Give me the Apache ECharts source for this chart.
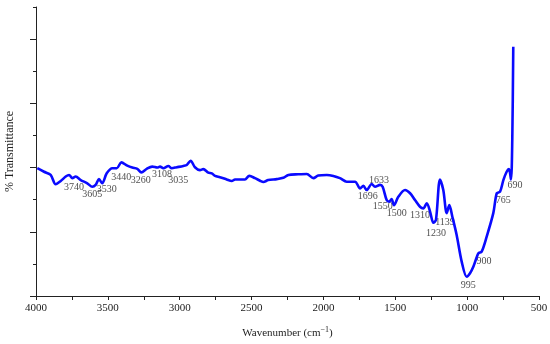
<!DOCTYPE html>
<html>
<head>
<meta charset="utf-8">
<script src="https://cdn.jsdelivr.net/npm/echarts@6/dist/echarts.min.js"></script>
<style>
html,body{margin:0;padding:0;background:#fff;}
#chart{width:550px;height:344px;}
</style>
</head>
<body>
<div id="chart"></div>
<script>
// Spectrum (wavenumber, cm^-1) and transmittance (arbitrary units)
const wavenumbers = [3991,3944,3898,3863,3828,3793,3770,3747,3724,3689,3643,3608,3585,3562,3539,3508,3469,3438,3406,3365,3330,3295,3267,3230,3191,3156,3137,3114,3079,3056,3021,2975,2951,2924,2894,2859,2836,2801,2777,2754,2720,2673,2638,2615,2569,2546,2516,2476,2441,2418,2384,2325,2279,2244,2175,2116,2070,2036,1977,1931,1885,1838,1780,1745,1722,1699,1664,1641,1606,1588,1560,1542,1526,1509,1479,1432,1397,1363,1328,1305,1281,1258,1235,1217,1189,1166,1142,1124,1103,1073,1038,1003,980,957,922,899,864,818,794,771,748,725,709,695,686,679];
const transmittance = [3.98,3.87,3.77,3.48,3.58,3.72,3.77,3.67,3.72,3.61,3.51,3.40,3.46,3.64,3.51,3.82,3.98,3.98,4.16,4.06,4.00,3.96,3.85,3.96,4.03,4.00,4.03,3.98,4.05,3.98,4.01,4.05,4.08,4.21,4.01,3.92,3.95,3.84,3.82,3.74,3.70,3.63,3.58,3.63,3.63,3.63,3.74,3.67,3.59,3.55,3.61,3.64,3.68,3.77,3.79,3.80,3.67,3.75,3.77,3.74,3.67,3.56,3.56,3.35,3.43,3.30,3.49,3.40,3.46,3.40,2.99,2.94,3.02,2.83,3.09,3.30,3.20,2.99,2.78,2.73,2.89,2.63,2.28,2.37,3.63,3.30,2.58,2.83,2.47,1.90,1.07,0.60,0.71,0.91,1.33,1.38,1.85,2.58,3.20,3.25,3.61,3.87,3.95,3.63,4.86,7.76];

// Peak annotations: text, and anchor position (wavenumber, transmittance)
const peakLabels = ['3740','3605','3530','3440','3260','3108','3035','1696','1633','1550','1500','1310','1230','1139','995','900','765','690'];
const peakLabelWn = [3736,3608,3508,3406,3271,3123,3010,1692,1613,1587,1490,1328,1217,1154,992,883,748,667];
const peakLabelVal = [3.39,3.17,3.32,3.68,3.61,3.80,3.59,3.09,3.61,2.78,2.58,2.52,1.95,2.28,0.32,1.09,2.99,3.43];

// Axis ticks
const xLabelValues = [4000,3500,3000,2500,2000,1500,1000,500];
const yMajorTicks = [0,2,4,6,8];

const lineData = wavenumbers.map((w,i)=>[w, transmittance[i]]);
const labelData = peakLabels.map((t,i)=>({value:[peakLabelWn[i], peakLabelVal[i]], name:t}));

const axisColor = '#222';
const font = 'Liberation Serif, Times New Roman, serif';

const chart = echarts.init(document.getElementById('chart'), null, {renderer:'canvas'});
chart.setOption({
  animation:false,
  backgroundColor:'#fff',
  grid:{left:36, right:11, top:7, bottom:48, containLabel:false, outerBoundsMode:'none'},
  xAxis:{
    type:'value', inverse:true, min:500, max:4000, interval:500,
    name:'{a|Wavenumber (cm}{s|−1}{a|)}',
    nameLocation:'middle', nameGap:30,
    nameTextStyle:{rich:{a:{fontFamily:font,fontSize:11,color:'#222'}, s:{fontFamily:font,fontSize:8,color:'#222',verticalAlign:'bottom',padding:[0,0,6,0]}}},
    axisLine:{show:true, onZero:false, lineStyle:{color:axisColor,width:1}},
    axisTick:{show:true, length:4, lineStyle:{color:axisColor}},
    minorTick:{show:true, splitNumber:2, length:4, lineStyle:{color:axisColor}},
    axisLabel:{fontFamily:font, fontSize:11, color:'#222', margin:7,
      customValues:xLabelValues, formatter:v=>String(v)},
    splitLine:{show:false}
  },
  yAxis:[{
    type:'value', min:0, max:9, interval:1,
    name:'% Transmittance', nameLocation:'middle', nameGap:20,
    nameTextStyle:{fontFamily:font, fontSize:12, color:'#222'},
    axisLine:{show:true, onZero:false, lineStyle:{color:axisColor,width:1}},
    axisTick:{show:true, length:3, lineStyle:{color:axisColor}},
    axisLabel:{show:false},
    splitLine:{show:false}
  },{
    type:'value', min:0, max:9, position:'left',
    axisLine:{show:false},
    axisTick:{show:true, length:6, customValues:yMajorTicks, lineStyle:{color:axisColor}},
    axisLabel:{show:false},
    splitLine:{show:false}
  }],
  series:[{
    type:'line', data:lineData, showSymbol:false, smooth:0.3,
    lineStyle:{color:'#0a0aff', width:2.6}, z:3
  },{
    type:'scatter', data:labelData, symbolSize:0, silent:true,
    label:{show:true, position:'inside', formatter:p=>p.name, fontFamily:font, fontSize:10, color:'#222'}
  }]
});
</script>
</body>
</html>
